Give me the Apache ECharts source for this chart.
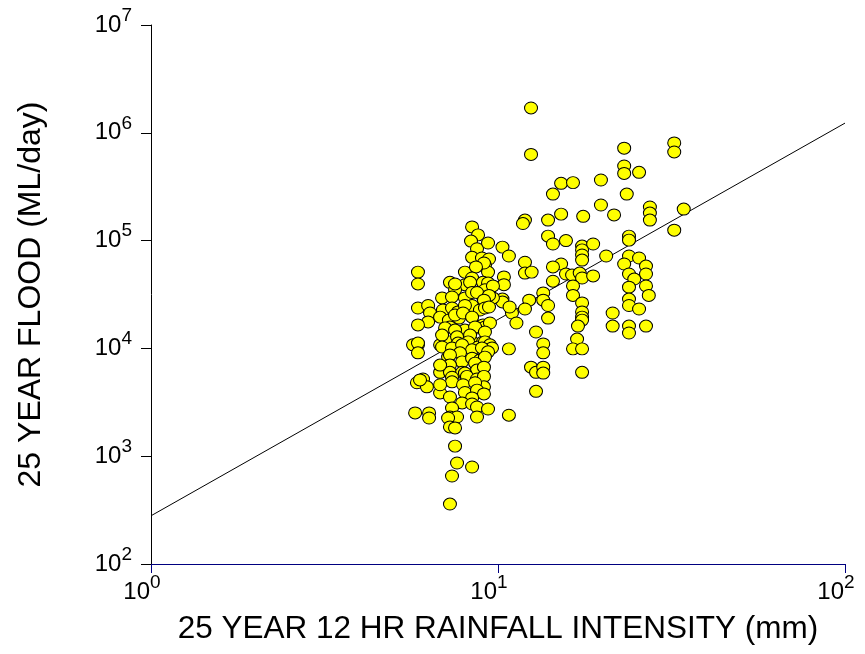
<!DOCTYPE html>
<html><head><meta charset="utf-8">
<script src="https://cdn.jsdelivr.net/npm/echarts@6/dist/echarts.min.js"></script>
<style>html,body{margin:0;padding:0;background:#fff}#c{width:865px;height:654px}</style>
</head><body><div id="c"></div>
<script>
// 25 year 12 hr rainfall intensity (mm)
const rainfall = [
12.45,12.45,23.1,32.2,32.2,23.1,23.1,25.5,19.8,15.2,16.45,14.4,23.5,19.8,15.2,17.6,21.6,27.4,27.4,27.4,
34.3,11.96,11.8,13.94,13.94,32.2,15.7,14.4,17.47,17.47,17.47,17.47,18.8,23.85,23.85,10.3,10.75,20.5,23.85,25.5,
23.1,26.7,11.96,15.2,14.4,11.96,12.5,15.7,16.35,17.2,17.47,18.8,14.4,10.4,10.4,26.7,23.85,24.7,23.85,26.7,
27.2,23.85,23.85,25.5,16.45,16.45,13.5,13.5,13.94,13.94,12.3,11.96,10.97,11.3,10.3,10.3,10.8,17.47,17.47,17.47,
17.47,17.0,21.4,21.4,23.85,23.85,26.7,12.87,10.75,13.5,13.5,16.9,16.45,17.47,12.45,12.87,13.5,13.5,17.47,12.87,
10.75,
8.42,8.76,8.36,8.70,9.36,8.42,8.99,9.42,9.17,9.36,9.11,8.03,8.64,8.42,8.03,7.27,7.52,7.52,8.31,9.05,
9.36,9.17,9.05,9.67,9.67,6.90,7.37,8.03,8.42,8.42,8.70,9.42,9.11,5.88,5.88,5.88,6.29,6.37,6.29,5.88,
6.94,7.37,7.67,8.03,8.87,9.17,9.42,6.81,7.22,7.72,7.52,7.93,8.42,9.05,5.88,6.81,7.27,8.42,9.05,7.27,
8.03,8.70,9.17,9.48,7.04,7.52,8.59,6.90,7.62,8.31,9.17,5.69,5.88,5.88,6.90,7.67,8.20,8.76,9.17,9.48,
7.37,7.88,8.42,9.61,7.18,7.77,8.99,9.36,7.27,7.88,8.42,8.87,9.17,7.27,8.59,6.81,7.27,7.88,8.70,9.11,
7.37,8.03,9.05,5.84,6.08,6.24,5.96,7.37,8.14,8.70,9.11,9.11,7.93,8.59,6.81,7.27,8.03,8.70,9.11,8.42,
7.88,8.42,8.70,9.36,5.77,6.33,6.33,7.37,7.27,7.62,7.18,7.27,7.52,8.70,7.52,7.62,8.42,7.37,7.27,6.81,
6.81
];
// 25 year flood (ML/day)
const flood = [
1700000,630000,720000,805000,664000,492000,420000,430000,365000,340000,345000,270000,270000,214000,176000,168000,173000,205000,180000,155000,
196000,155000,144000,155000,110000,125000,100000,93000,89000,82000,73500,66000,93000,110000,101000,87000,72000,72000,72000,69000,
60700,58000,63000,60700,57000,50000,51000,49000,48000,50000,45000,47000,42000,46000,39000,49000,49000,44000,37000,38000,
31000,28700,25000,23200,38000,31000,32700,28000,25000,19100,28000,23200,21300,17200,28700,27000,24200,26400,21800,19500,
18300,16100,21300,16100,16100,13900,16100,14200,9900,11000,9100,12200,9900,9900,6700,6000,6700,5900,6000,4000,
2400,
134000,113000,99000,84000,95000,70000,69000,67500,59000,51000,62000,51000,57000,45000,39000,41000,35000,39600,41000,41000,
40500,35000,30000,38000,29400,29400,30000,29400,25000,33000,33000,31000,28000,51000,39600,23700,25000,21300,17600,16500,
22700,23700,21800,25000,22700,23700,24200,19500,18300,19100,20400,21300,19500,16500,10800,10800,11500,11500,11500,15800,
14800,15500,15800,17200,15500,14800,15800,13300,12800,13300,14200,10800,11200,9100,10300,11200,11500,10300,11500,10800,
10100,10800,9700,10100,8300,9100,10100,9300,8700,7500,8100,7800,8300,7000,7300,6000,6000,6000,6300,6700,
5400,5900,5400,4800,5200,4400,5100,4900,5500,5200,5500,4400,4600,4800,3860,3540,3900,4100,3780,3470,
3120,3050,2860,2740,2520,2520,2260,2800,2310,2310,2260,1870,1830,2310,1240,865,794,655,360,7000,
4600
];
// fitted regression line end points
const fitX = [1, 100];
const fitY = [280, 1230000];

const FONT = 'Liberation Sans, Arial, sans-serif';
const supLabel = v => '{b|10}{s|' + Math.round(Math.log10(v)) + '}';
const richLab = {
  b: {fontSize: 24, lineHeight: 38, verticalAlign: 'middle', fontFamily: FONT, color: '#000'},
  s: {fontSize: 19, lineHeight: 20, verticalAlign: 'top', fontFamily: FONT, color: '#000'}
};

const chart = echarts.init(document.getElementById('c'), null, {renderer: 'canvas'});
chart.setOption({
  animation: false,
  backgroundColor: '#fff',
  grid: {left: 151, top: 25, width: 694, height: 539, containLabel: false},
  xAxis: {
    type: 'log', logBase: 10, min: 1, max: 100, interval: 1,
    name: '25 YEAR 12 HR RAINFALL INTENSITY (mm)', nameLocation: 'middle', nameGap: 49,
    nameTextStyle: {fontSize: 31.5, fontFamily: FONT, color: '#000'},
    axisLine: {show: true, lineStyle: {color: '#000080', width: 1}},
    axisTick: {show: true, inside: false, length: 9, lineStyle: {color: '#000080'}},
    minorTick: {show: false},
    splitLine: {show: false},
    axisLabel: {formatter: supLabel, rich: richLab, margin: 9, padding: [0, 18, 0, 0]}
  },
  yAxis: {
    type: 'log', logBase: 10, min: 100, max: 10000000, interval: 1,
    name: '25 YEAR FLOOD (ML/day)', nameLocation: 'middle', nameGap: 104, nameRotate: 90,
    nameTextStyle: {fontSize: 32, fontFamily: FONT, color: '#000'},
    axisLine: {show: true, lineStyle: {color: '#000', width: 1}},
    axisTick: {show: true, inside: false, length: 10, lineStyle: {color: '#000'}},
    splitLine: {show: false},
    axisLabel: {formatter: supLabel, rich: richLab, margin: 19}
  },
  series: [
    {
      type: 'line', data: fitX.map((x, i) => [x, fitY[i]]), showSymbol: false, symbol: 'none',
      lineStyle: {color: '#000', width: 1}, z: 1, silent: true
    },
    {
      type: 'scatter', data: rainfall.map((x, i) => [x, flood[i]]),
      symbol: 'circle', symbolSize: [13, 12],
      itemStyle: {color: '#ffff00', borderColor: '#000', borderWidth: 1, opacity: 1},
      z: 2
    }
  ]
});
</script></body></html>
